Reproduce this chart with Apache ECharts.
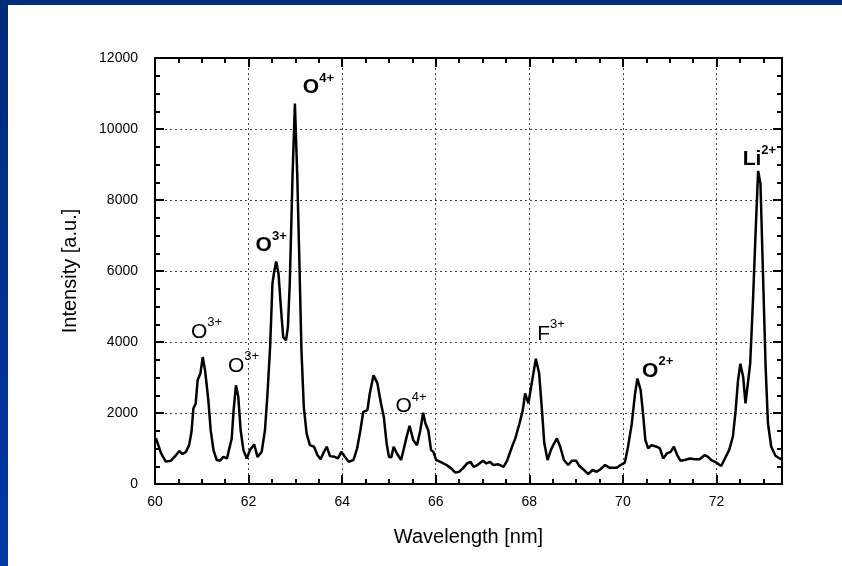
<!DOCTYPE html>
<html>
<head>
<meta charset="utf-8">
<title>Emission spectrum 60–73.4 nm</title>
<script src="https://cdn.jsdelivr.net/npm/echarts@6/dist/echarts.min.js"></script>
<style>
  html, body { margin: 0; padding: 0; background: #ffffff; }
  #frame { position: relative; width: 842px; height: 566px; overflow: hidden; background: #ffffff; }
  #topBar { position: absolute; left: 0; top: 0; width: 842px; height: 5px; background: #002a7a; }
  #leftBar { position: absolute; left: 0; top: 0; width: 8px; height: 566px;
             background: linear-gradient(to bottom, #002a7a, #0038a6); }
  #chart { position: absolute; left: 0; top: 0; width: 842px; height: 566px; }
</style>
</head>
<body>
<div id="frame">
  <div id="chart"></div>
  <div id="topBar"></div>
  <div id="leftBar"></div>
</div>
<script>
// Measured spectrum: wavelength (nm) and intensity (a.u.)
const wavelength = [
  60.02, 60.13, 60.23, 60.34, 60.45, 60.52, 60.59, 60.66, 60.73, 60.78,
  60.82, 60.87, 60.91, 60.97, 61.02, 61.07, 61.14, 61.19, 61.25, 61.32,
  61.39, 61.46, 61.54, 61.58, 61.64, 61.68, 61.73, 61.78, 61.83, 61.89,
  61.96, 62.03, 62.12, 62.19, 62.28, 62.35, 62.40, 62.46, 62.51, 62.54,
  62.59, 62.64, 62.69, 62.74, 62.80, 62.84, 62.88, 62.94, 62.99, 63.04,
  63.08, 63.13, 63.18, 63.24, 63.31, 63.40, 63.47, 63.54, 63.61, 63.67,
  63.74, 63.84, 63.91, 63.98, 64.05, 64.14, 64.24, 64.32, 64.39, 64.45,
  64.54, 64.59, 64.67, 64.75, 64.83, 64.89, 64.95, 65.00, 65.05, 65.10,
  65.17, 65.26, 65.32, 65.37, 65.44, 65.52, 65.60, 65.67, 65.73, 65.78,
  65.84, 65.90, 65.95, 66.01, 66.10, 66.23, 66.33, 66.42, 66.50, 66.58,
  66.67, 66.74, 66.81, 66.89, 67.01, 67.08, 67.16, 67.23, 67.34, 67.45,
  67.53, 67.63, 67.70, 67.79, 67.86, 67.91, 67.98, 68.05, 68.14, 68.21,
  68.27, 68.32, 68.39, 68.46, 68.51, 68.59, 68.66, 68.74, 68.83, 68.91,
  69.00, 69.07, 69.15, 69.26, 69.35, 69.44, 69.52, 69.62, 69.71, 69.87,
  69.95, 70.04, 70.11, 70.19, 70.26, 70.31, 70.38, 70.43, 70.48, 70.54,
  70.61, 70.72, 70.79, 70.86, 70.94, 71.02, 71.09, 71.16, 71.23, 71.32,
  71.43, 71.54, 71.64, 71.75, 71.82, 71.89, 72.00, 72.10, 72.18, 72.27,
  72.35, 72.41, 72.46, 72.51, 72.57, 72.62, 72.65, 72.72, 72.78, 72.84,
  72.89, 72.94, 72.99, 73.05, 73.10, 73.17, 73.26, 73.35, 73.39
];
const intensity = [
  1290, 860, 630, 655, 815, 925, 845, 905, 1095, 1470,
  2125, 2270, 2920, 3110, 3575, 3200, 2360, 1515, 955, 675,
  655, 765, 720, 955, 1285, 2080, 2780, 2455, 1515, 955,
  720, 955, 1115, 765, 905, 1515, 2455, 3860, 5640, 5920,
  6270, 5920, 4980, 4140, 4045, 4420, 5640, 8700, 10720, 8700,
  6575, 3765, 2170, 1425, 1095, 1050, 815, 695, 905, 1050,
  785, 765, 720, 905, 785, 625, 675, 1005, 1515, 2030,
  2080, 2550, 3060, 2850, 2270, 1890, 1145, 765, 750, 1050,
  860, 675, 1005, 1285, 1640, 1235, 1095, 1515, 2005, 1705,
  1515, 955, 905, 675, 625, 535, 440, 320, 345, 440,
  580, 625, 485, 535, 655, 580, 625, 535, 555, 485,
  675, 1050, 1285, 1705, 2080, 2550, 2270, 2830, 3530, 3110,
  2080, 1145, 675, 955, 1095, 1285, 1050, 675, 535, 655,
  655, 505, 415, 280, 395, 345, 415, 535, 460, 460,
  535, 600, 1050, 1705, 2550, 2970, 2640, 1985, 1235, 1005,
  1095, 1050, 1005, 720, 860, 905, 1050, 815, 655, 675,
  720, 695, 695, 815, 765, 675, 600, 505, 720, 955,
  1330, 2080, 2920, 3390, 3015, 2270, 2315, 3390, 5170, 7230,
  8820, 8450, 6105, 3295, 1705, 1050, 795, 720, 695
];

// Line identifications: ion symbol, charge, bold flag, anchor (wavelength, intensity)
const ionSymbol = ['O', 'O', 'O', 'O', 'O', 'F', 'O', 'Li'];
const ionCharge = ['3+', '3+', '3+', '4+', '4+', '3+', '2+', '2+'];
const ionBold   = [false, false, true, true, false, false, true, true];
const ionAtX    = [60.77, 61.56, 62.15, 63.16, 65.14, 68.17, 70.41, 72.56];
const ionAtY    = [3990, 3035, 6435, 10875, 1883, 3934, 2894, 8852];

// Axis ticks
const xMin = 60, xMax = 73.4, xStep = 2, xMinorStep = 0.5;
const yMin = 0, yMax = 12000, yStep = 2000;

const FONT = "'Liberation Sans', Arial, Helvetica, sans-serif";

const spectrum = wavelength.map((w, i) => [w, intensity[i]]);
const ionPoints = ionSymbol.map((s, i) => ({
  value: [ionAtX[i], ionAtY[i]],
  label: {
    formatter: ionBold[i] ? `{b|${s}}{sb|${ionCharge[i]}}` : `{n|${s}}{sn|${ionCharge[i]}}`
  }
}));

const chart = echarts.init(document.getElementById('chart'), null, { renderer: 'canvas' });

const blackLine = { lineStyle: { color: '#000', width: 2 } };
const gridDots = { show: true, lineStyle: { color: '#444', width: 1, type: [2, 3] } };

chart.setOption({
  animation: false,
  backgroundColor: 'transparent',
  grid: { left: 155, right: 60, top: 58, bottom: 82, containLabel: false },
  xAxis: [
    { // main bottom axis with labels and grid
      type: 'value', position: 'bottom', min: xMin, max: xMax, interval: xStep,
      axisLine: { show: true, onZero: false, ...blackLine },
      axisTick: { show: true, inside: true, length: 9, lineStyle: { color: '#000', width: 2 } },
      axisLabel: { show: true, showMaxLabel: false, margin: 11, fontSize: 14, color: '#000', fontFamily: FONT },
      splitLine: gridDots,
      name: 'Wavelength [nm]', nameLocation: 'middle', nameGap: 43,
      nameTextStyle: { fontSize: 20, color: '#000', fontFamily: FONT }
    },
    { // bottom minor ticks
      type: 'value', position: 'bottom', min: xMin, max: xMax, interval: xMinorStep,
      axisLine: { show: false, onZero: false },
      axisTick: { show: true, inside: true, length: 5, lineStyle: { color: '#000', width: 2 } },
      axisLabel: { show: false }, splitLine: { show: false }
    },
    { // top frame with major ticks
      type: 'value', position: 'top', min: xMin, max: xMax, interval: xStep,
      axisLine: { show: true, onZero: false, ...blackLine },
      axisTick: { show: true, inside: true, length: 9, lineStyle: { color: '#000', width: 2 } },
      axisLabel: { show: false }, splitLine: { show: false }
    },
    { // top minor ticks
      type: 'value', position: 'top', min: xMin, max: xMax, interval: xMinorStep,
      axisLine: { show: false, onZero: false },
      axisTick: { show: true, inside: true, length: 5, lineStyle: { color: '#000', width: 2 } },
      axisLabel: { show: false }, splitLine: { show: false }
    }
  ],
  yAxis: [
    {
      type: 'value', position: 'left', min: yMin, max: yMax, interval: yStep,
      axisLine: { show: true, onZero: false, ...blackLine },
      axisTick: { show: true, inside: true, length: 9, lineStyle: { color: '#000', width: 2 } },
      minorTick: { show: true, splitNumber: 4, length: 5, lineStyle: { color: '#000', width: 2 } },
      axisLabel: { show: true, margin: 17, fontSize: 14, color: '#000', fontFamily: FONT,
                   formatter: v => String(v) },
      splitLine: gridDots,
      name: 'Intensity [a.u.]', nameLocation: 'middle', nameGap: 75, nameRotate: 90,
      nameTextStyle: { fontSize: 20, color: '#000', fontFamily: FONT }
    },
    {
      type: 'value', position: 'right', min: yMin, max: yMax, interval: yStep,
      axisLine: { show: true, onZero: false, ...blackLine },
      axisTick: { show: true, inside: true, length: 9, lineStyle: { color: '#000', width: 2 } },
      minorTick: { show: true, splitNumber: 4, length: 5, lineStyle: { color: '#000', width: 2 } },
      axisLabel: { show: false }, splitLine: { show: false }
    }
  ],
  series: [
    {
      type: 'line', xAxisIndex: 0, yAxisIndex: 0,
      data: spectrum, showSymbol: false, symbol: 'none', smooth: false,
      lineStyle: { color: '#000', width: 2.5 },
      z: 5
    },
    {
      type: 'scatter', xAxisIndex: 0, yAxisIndex: 0,
      data: ionPoints, symbolSize: 0, silent: true, z: 6,
      itemStyle: { opacity: 1, color: '#000' },
      label: {
        show: true, position: [0, 0], align: 'left', verticalAlign: 'bottom',
        color: '#000', opacity: 1, fontFamily: FONT,
        rich: {
          n:  { fontSize: 21, fontFamily: FONT, color: '#000', lineHeight: 26, verticalAlign: 'bottom' },
          b:  { fontSize: 21, fontWeight: 'bold', fontFamily: FONT, color: '#000', lineHeight: 26, verticalAlign: 'bottom' },
          sn: { fontSize: 13, fontFamily: FONT, color: '#000', lineHeight: 14, verticalAlign: 'top' },
          sb: { fontSize: 13, fontWeight: 'bold', fontFamily: FONT, color: '#000', lineHeight: 14, verticalAlign: 'top' }
        }
      }
    }
  ]
});
</script>
</body>
</html>
